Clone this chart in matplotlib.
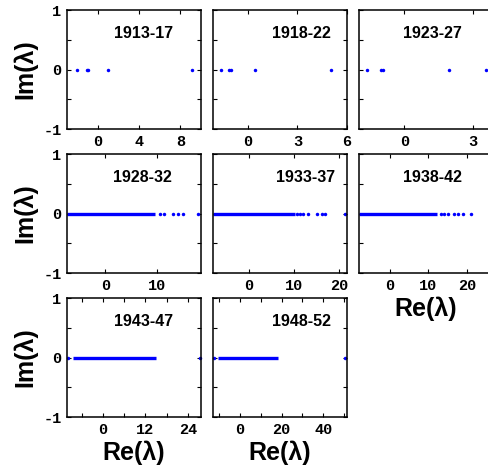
import matplotlib
matplotlib.use('Agg')
import matplotlib.pyplot as plt

# periods shown in the 8 panels
periods = ['1913-17', '1918-22', '1923-27', '1928-32',
           '1933-37', '1938-42', '1943-47', '1948-52']

# isolated eigenvalues (real parts; all imaginary parts are 0)
eig_1913 = [-2.0, -1.05, -0.95, 1.0, 9.1]
eig_1918 = [-1.64, -1.12, -1.02, 0.42, 5.03]
eig_1923 = [-1.63, -1.02, -0.93, 1.98, 3.57]
eig_1928 = [10.6, 11.4, 13.1, 14.1, 15.1, 18.0]
eig_1933 = [10.7, 11.3, 12.0, 13.1, 15.1, 16.2, 16.9, 21.3]
eig_1938 = [13.2, 14.0, 15.0, 16.6, 17.6, 19.0, 21.0]
eig_1943 = [-10.0, 27.4]
eig_1948 = [-12.7, 50.5]
isolated = [eig_1913, eig_1918, eig_1923, eig_1928,
            eig_1933, eig_1938, eig_1943, eig_1948]

# dense bulk of the spectrum (start, end of real part), None where absent
bulk = [None, None, None, (-7.4, 9.7), (-8.0, 10.2), (-8.1, 12.2),
        (-8.6, 14.9), (-10.5, 18.1)]

xlims = [(-3, 10), (-2.1, 6), (-2, 3.9), (-7.4, 18.5),
         (-8, 21.8), (-8.1, 26.8), (-10.2, 27.7), (-13, 51.4)]
xticks = [[0, 4, 8], [0, 3, 6], [0, 3], [0, 10],
          [0, 10, 20], [0, 10, 20], [0, 12, 24], [0, 20, 40]]
xminor = [[], [], [], [], [], [], [-6, 6, 18], [-10, 10, 30, 50]]
title_x = [0.57, 0.66, 0.55, 0.56, 0.69, 0.55, 0.57, 0.66]

W, H = 489, 469
col_left = [67, 213, 359]
row_top = [10, 154, 298]
pw, ph = 134, 119

fig = plt.figure(figsize=(W / 100, H / 100), dpi=100)
tickfont = {'family': 'Liberation Mono', 'weight': 'bold', 'size': 11}
labfont = {'family': 'Liberation Sans', 'weight': 'bold', 'size': 18}

for i, p in enumerate(periods):
    r, c = divmod(i, 3)
    ax = fig.add_axes([col_left[c] / W, (H - row_top[r] - ph) / H, pw / W, ph / H])
    if bulk[i] is not None:
        ax.hlines(0, bulk[i][0], bulk[i][1], color='#0000ff', lw=2.4)
    ax.plot(isolated[i], [0] * len(isolated[i]), 'o', color='#0000ff',
            ms=2.5, mew=0, clip_on=False)
    ax.set_xlim(xlims[i])
    ax.set_ylim(-1, 1)
    ax.set_xticks(xticks[i])
    ax.set_xticks(xminor[i], minor=True)
    ax.set_xticklabels([str(t) for t in xticks[i]], fontdict=tickfont)
    ax.set_yticks([-1, 0, 1])
    ax.set_yticks([-0.5, 0.5], minor=True)
    if c == 0:
        ax.set_yticklabels(['-1', '0', '1'], fontdict=tickfont)
        ax.set_ylabel('Im(λ)', fontdict=labfont)
        ax.yaxis.set_label_coords(-0.22, 0.5)
    else:
        ax.set_yticklabels([])
    ax.tick_params(which='both', direction='in', top=True, right=True,
                   length=3, width=0.8, pad=4)
    for s in ax.spines.values():
        s.set_linewidth(1.1)
    if i in (5, 6, 7):
        ax.set_xlabel('Re(λ)', fontdict=labfont)
        ax.xaxis.set_label_coords(0.5, -0.2)
    ax.text(title_x[i], 0.80, p, transform=ax.transAxes, ha='center',
            va='center', fontsize=11.5, fontweight='bold', family='Liberation Sans')

fig.savefig('out.png', dpi=100)
